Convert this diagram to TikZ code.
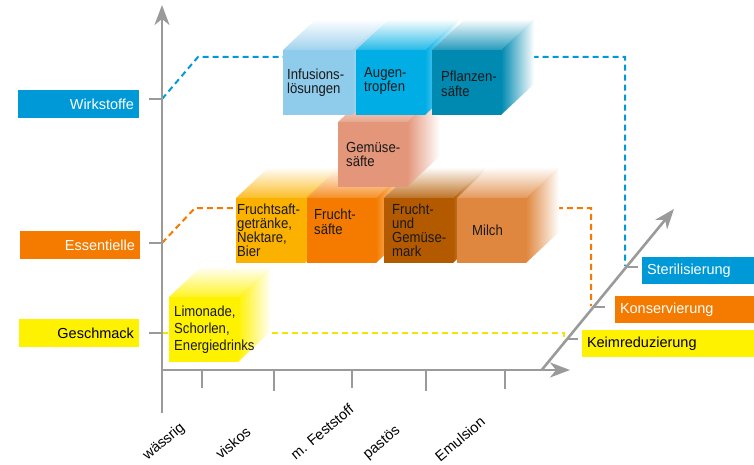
\documentclass[tikz,border=0pt]{standalone}
\usepackage{fontspec}
\setmainfont{Liberation Sans}
\newfontfamily\condfont[FakeStretch=0.9]{Liberation Sans}
\usetikzlibrary{arrows.meta}
\definecolor{axisgray}{HTML}{9A9A9A}
\definecolor{cBlue}{HTML}{0099D8}
\definecolor{cOrange}{HTML}{F47A00}
\definecolor{cYellow}{HTML}{FFF200}
\definecolor{cInf}{HTML}{8FCBEB}
\definecolor{cAug}{HTML}{00AEE5}
\definecolor{cPfl}{HTML}{0089B1}
\definecolor{cGem}{HTML}{E3967A}
\definecolor{cFsg}{HTML}{FBB100}
\definecolor{cFrs}{HTML}{F47B00}
\definecolor{cFgm}{HTML}{B35A00}
\definecolor{cMil}{HTML}{E0873F}
\definecolor{cLim}{HTML}{FFF200}
\tikzset{
  axisline/.style={draw=axisgray, line width=2.6pt},
  axisarrow/.style={axisline, -{Stealth[length=20pt,width=15pt,inset=6pt]}},
  dashline/.style={line width=2pt, dash pattern=on 6pt off 4pt},
  face/.style={rectangle, anchor=north west, minimum width=69pt, minimum height=65pt, inner sep=0pt},
  ctext/.style={font=\condfont\fontsize{14.6}{14.3}\selectfont, align=left, inner sep=0pt, text=black!90},
  lbox/.style={rectangle, inner ysep=0pt, inner xsep=5pt, minimum height=28pt, font=\fontsize{14.5}{16}\selectfont},
  blabel/.style={font=\fontsize{14.5}{16}\selectfont, rotate=40, inner sep=0pt}
}
\newcommand\mycube[4]{%
  \shade[top color=white, bottom color=#4!85!white] (#2,#3) -- ++(33,-31) -- ++(69,0) -- ++(-33,31) -- cycle;
  \shade[left color=#4, right color=white] (#2+69,#3) -- ++(33,-31) -- ++(0,65) -- ++(-33,31) -- cycle;
  \node[face, fill=#4] (#1) at (#2,#3) {};
}
\begin{document}
\begin{tikzpicture}[x=1pt,y=-1pt]
\useasboundingbox (0,0) rectangle (754,465);

% axis coordinates
\coordinate (vb) at (162,413);
\coordinate (vt) at (162,5);
\coordinate (O) at (162,370);
\coordinate (hx) at (570,370);
\coordinate (d0) at (541.7,370);
\coordinate (d1) at (674,209);
\coordinate (aW) at (162,99);
\coordinate (aE) at (162,243);
\coordinate (aG) at (162,333);
\coordinate (tS) at (626,267);
\coordinate (tK) at (593.5,307);
\coordinate (tR) at (567.2,339);

% dashed guide lines
\coordinate (bw1) at (198,57);
\coordinate (bw2) at (625,57);
\coordinate (bw3) at (625,266);
\coordinate (oe1) at (195,208);
\coordinate (oe2) at (591,208);
\coordinate (oe3) at (591,306);
\coordinate (yg1) at (564,333);
\coordinate (yg2) at (564,342);
\draw[dashline, draw=cBlue] (aW) -- (bw1) -- (bw2) -- (bw3);
\draw[dashline, draw=cOrange] (aE) -- (oe1) -- (oe2) -- (oe3);
\draw[dashline, draw=cYellow!95!black] (aG) -- (yg1) -- (yg2);

% axes
\draw[axisarrow] (vb) -- (vt);
\draw[axisarrow] (O) -- (hx);
\draw[axisarrow] (d0) -- (d1);

% ticks
\draw[axisline] (aW) -- ++(-13,0);
\draw[axisline] (aE) -- ++(-13,0);
\draw[axisline] (aG) -- ++(-13,0);
\draw[axisline] (202,370) -- (202,388);
\draw[axisline] (274,370) -- (274,391);
\draw[axisline] (352,370) -- (352,388);
\draw[axisline] (426,370) -- (426,391);
\draw[axisline] (505,370) -- (505,389);
\draw[axisline] (tS) -- ++(12,0);
\draw[axisline] (tK) -- ++(11,0);
\draw[axisline] (tR) -- ++(11,0);

% left labels
\node[lbox, fill=cBlue, text=white, text width=111pt, align=right] (wirk) at (78.5,104) {Wirkstoffe};
\node[lbox, fill=cOrange, text=white, text width=110pt, align=right] (ess) at (80,245) {Essentielle};
\node[lbox, fill=cYellow, text=black, text width=110pt, align=right] (gesch) at (79,333) {Geschmack};

% right labels
\node[lbox, fill=cBlue, text=white, text width=102pt, align=left, minimum height=27pt] (ster) at (698,270.5) {Sterilisierung};
\node[lbox, fill=cOrange, text=white, text width=129pt, align=left, minimum height=27pt] (kons) at (684.5,309.5) {Konservierung};
\node[lbox, fill=cYellow, text=black, text width=162pt, align=left, minimum height=27pt] (keim) at (668,343.5) {Keimreduzierung};

% bottom labels
\node[blabel] (lw) at (164,442) {wässrig};
\node[blabel] (lv) at (233,443) {viskos};
\node[blabel] (lm) at (322,432) {m. Feststoff};
\node[blabel] (lp) at (382,443) {pastös};
\node[blabel] (le) at (460,439) {Emulsion};

% cubes: yellow row
\mycube{lim}{169}{297}{cLim}
% orange row
\mycube{fsg}{236}{198}{cFsg}
\mycube{frs}{307}{198}{cFrs}
\mycube{fgm}{384}{198}{cFgm}
\mycube{mil}{457}{198}{cMil}
% salmon
\mycube{gem}{338}{122}{cGem}
% blue row
\mycube{inf}{283}{50}{cInf}
\mycube{aug}{356}{50}{cAug}
\mycube{pfl}{432}{50}{cPfl}

% cube texts
\node[ctext, anchor=west, font=\condfont\fontsize{14.6}{17}\selectfont] (tlim) at ([xshift=5pt]lim.west) {Limonade,\\Schorlen,\\Energiedrinks};
\node[ctext, anchor=west, font=\condfont\fontsize{14.6}{14}\selectfont] (tfsg) at ([xshift=1pt]fsg.west) {Fruchtsaft-\\getränke,\\Nektare,\\Bier};
\node[ctext, anchor=west] (tfrs) at ([xshift=7pt,yshift=9pt]frs.west) {Frucht-\\säfte};
\node[ctext, anchor=west, font=\condfont\fontsize{14.6}{14}\selectfont] (tfgm) at ([xshift=8pt]fgm.west) {Frucht-\\und\\Gemüse-\\mark};
\node[ctext, anchor=west] (tmil) at ([xshift=15pt]mil.west) {Milch};
\node[ctext, anchor=west] (tgem) at ([xshift=8pt]gem.west) {Gemüse-\\säfte};
\node[ctext, anchor=west] (tinf) at ([xshift=4pt]inf.west) {Infusions-\\lösungen};
\node[ctext, anchor=west] (taug) at ([xshift=8pt,yshift=2pt]aug.west) {Augen-\\tropfen};
\node[ctext, anchor=west] (tpfl) at ([xshift=9pt,yshift=-1pt]pfl.west) {Pflanzen-\\säfte};
\end{tikzpicture}
\end{document}
